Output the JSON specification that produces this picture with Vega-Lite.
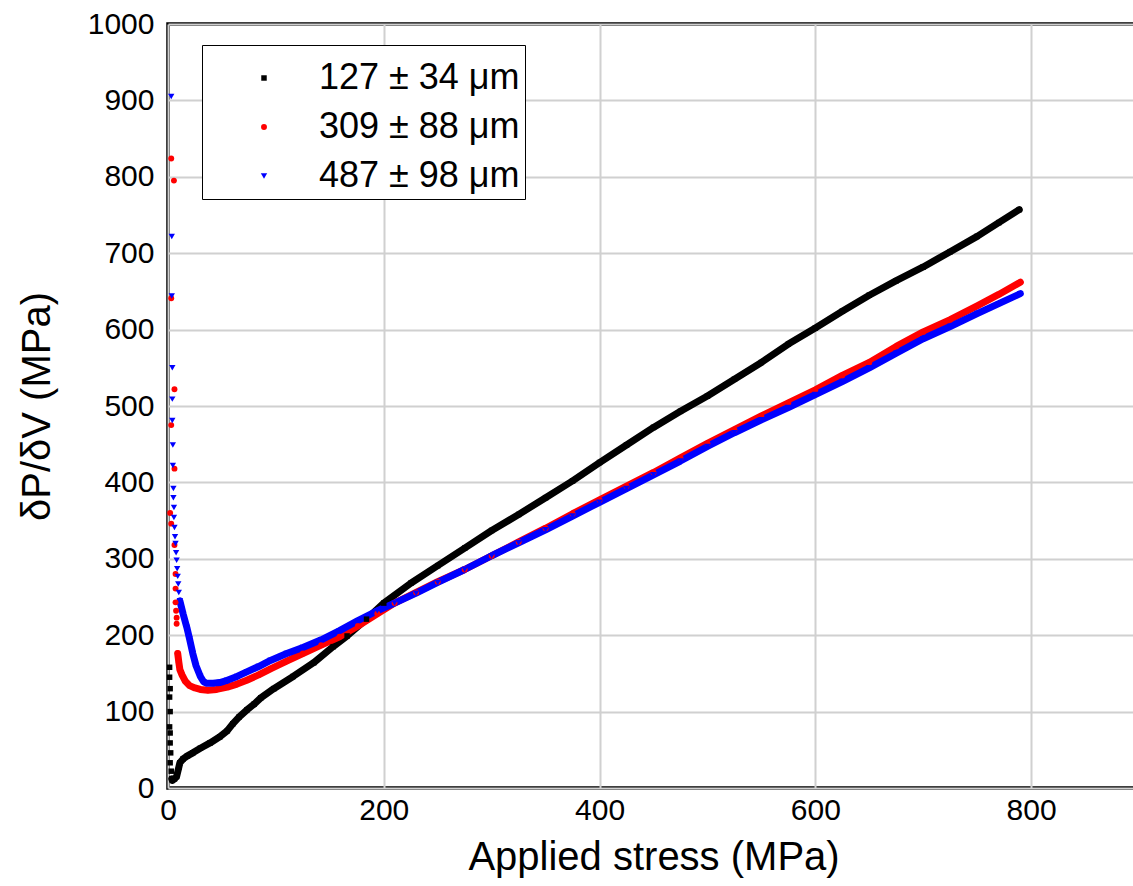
{
  "$schema": "https://vega.github.io/schema/vega-lite/v6.json",
  "autosize": "none",
  "width": 971,
  "height": 764,
  "padding": {"left": 168, "top": 24, "right": 0, "bottom": 98},
  "background": "white",
  "config": {
    "view": {"stroke": "#000000", "strokeWidth": 3.5},
    "font": "Liberation Sans",
    "axis": {
      "labelFont": "Liberation Sans", "labelFontSize": 30, "labelColor": "#000000",
      "titleFont": "Liberation Sans", "titleFontSize": 40, "titleFontWeight": "normal", "titleColor": "#000000",
      "ticks": false, "domain": false, "gridColor": "#d0d0d0", "gridWidth": 2
    },
    "legend": {
      "labelFont": "Liberation Sans", "labelFontSize": 36, "labelColor": "#000000", "labelLimit": 500
    }
  },
  "data": {"values": [
    {"s":"127 ± 34 μm","x":1.5,"y":158},{"s":"127 ± 34 μm","x":1.5,"y":145},{"s":"127 ± 34 μm","x":2,"y":130},{"s":"127 ± 34 μm","x":1.5,"y":119},{"s":"127 ± 34 μm","x":2,"y":100},{"s":"127 ± 34 μm","x":1.5,"y":80},{"s":"127 ± 34 μm","x":2,"y":72},{"s":"127 ± 34 μm","x":2,"y":59},{"s":"127 ± 34 μm","x":2.5,"y":46},{"s":"127 ± 34 μm","x":2,"y":33},
    {"s":"127 ± 34 μm","x":3,"y":22},{"s":"127 ± 34 μm","x":3.5,"y":12},{"s":"127 ± 34 μm","x":4,"y":10},{"s":"127 ± 34 μm","x":6,"y":12},{"s":"127 ± 34 μm","x":8,"y":15},{"s":"127 ± 34 μm","x":10,"y":27},{"s":"127 ± 34 μm","x":11,"y":33},{"s":"127 ± 34 μm","x":14,"y":38},{"s":"127 ± 34 μm","x":18,"y":42},{"s":"127 ± 34 μm","x":23,"y":46},{"s":"127 ± 34 μm","x":30,"y":52},{"s":"127 ± 34 μm","x":39,"y":59},{"s":"127 ± 34 μm","x":48,"y":67},{"s":"127 ± 34 μm","x":55,"y":75},{"s":"127 ± 34 μm","x":60,"y":84},{"s":"127 ± 34 μm","x":66,"y":93},{"s":"127 ± 34 μm","x":73,"y":102},{"s":"127 ± 34 μm","x":80,"y":110},{"s":"127 ± 34 μm","x":86,"y":118},{"s":"127 ± 34 μm","x":98,"y":130},{"s":"127 ± 34 μm","x":116,"y":146},{"s":"127 ± 34 μm","x":135,"y":164},{"s":"127 ± 34 μm","x":153,"y":185},{"s":"127 ± 34 μm","x":166,"y":199},{"s":"127 ± 34 μm","x":184,"y":221},{"s":"127 ± 34 μm","x":200,"y":242},{"s":"127 ± 34 μm","x":225,"y":268},{"s":"127 ± 34 μm","x":250,"y":291},{"s":"127 ± 34 μm","x":275,"y":314},{"s":"127 ± 34 μm","x":300,"y":337},{"s":"127 ± 34 μm","x":325,"y":358},{"s":"127 ± 34 μm","x":350,"y":380},{"s":"127 ± 34 μm","x":375,"y":402},{"s":"127 ± 34 μm","x":400,"y":426},{"s":"127 ± 34 μm","x":425,"y":449},{"s":"127 ± 34 μm","x":450,"y":472},{"s":"127 ± 34 μm","x":475,"y":493},{"s":"127 ± 34 μm","x":500,"y":513},{"s":"127 ± 34 μm","x":525,"y":535},{"s":"127 ± 34 μm","x":550,"y":557},{"s":"127 ± 34 μm","x":575,"y":581},{"s":"127 ± 34 μm","x":600,"y":602},{"s":"127 ± 34 μm","x":625,"y":624},{"s":"127 ± 34 μm","x":650,"y":645},{"s":"127 ± 34 μm","x":675,"y":664},{"s":"127 ± 34 μm","x":700,"y":682},{"s":"127 ± 34 μm","x":725,"y":702},{"s":"127 ± 34 μm","x":750,"y":722},{"s":"127 ± 34 μm","x":770,"y":740},{"s":"127 ± 34 μm","x":789,"y":757},

    {"s":"309 ± 88 μm","x":3,"y":824},{"s":"309 ± 88 μm","x":5.5,"y":795},{"s":"309 ± 88 μm","x":3,"y":641},{"s":"309 ± 88 μm","x":6,"y":522},{"s":"309 ± 88 μm","x":3,"y":475},{"s":"309 ± 88 μm","x":6,"y":418},{"s":"309 ± 88 μm","x":2,"y":360},{"s":"309 ± 88 μm","x":3,"y":346},{"s":"309 ± 88 μm","x":6,"y":318},{"s":"309 ± 88 μm","x":7,"y":280},{"s":"309 ± 88 μm","x":7,"y":261},{"s":"309 ± 88 μm","x":7,"y":243},{"s":"309 ± 88 μm","x":7.5,"y":232},{"s":"309 ± 88 μm","x":8,"y":223},{"s":"309 ± 88 μm","x":8,"y":215},
    {"s":"309 ± 88 μm","x":9,"y":176},{"s":"309 ± 88 μm","x":10,"y":165},{"s":"309 ± 88 μm","x":11,"y":155},{"s":"309 ± 88 μm","x":13,"y":148},{"s":"309 ± 88 μm","x":16,"y":140},{"s":"309 ± 88 μm","x":20,"y":134},{"s":"309 ± 88 μm","x":25,"y":131},{"s":"309 ± 88 μm","x":30,"y":129},{"s":"309 ± 88 μm","x":37,"y":128},{"s":"309 ± 88 μm","x":45,"y":129},{"s":"309 ± 88 μm","x":55,"y":132},{"s":"309 ± 88 μm","x":64,"y":136},{"s":"309 ± 88 μm","x":73,"y":141},{"s":"309 ± 88 μm","x":84,"y":148},{"s":"309 ± 88 μm","x":95,"y":156},{"s":"309 ± 88 μm","x":110,"y":166},{"s":"309 ± 88 μm","x":125,"y":176},{"s":"309 ± 88 μm","x":142,"y":187},{"s":"309 ± 88 μm","x":159,"y":198},{"s":"309 ± 88 μm","x":176,"y":212},{"s":"309 ± 88 μm","x":194,"y":228},{"s":"309 ± 88 μm","x":210,"y":242},{"s":"309 ± 88 μm","x":230,"y":256},{"s":"309 ± 88 μm","x":250,"y":270},{"s":"309 ± 88 μm","x":275,"y":286},{"s":"309 ± 88 μm","x":300,"y":304},{"s":"309 ± 88 μm","x":325,"y":322},{"s":"309 ± 88 μm","x":350,"y":340},{"s":"309 ± 88 μm","x":375,"y":359},{"s":"309 ± 88 μm","x":400,"y":377},{"s":"309 ± 88 μm","x":425,"y":395},{"s":"309 ± 88 μm","x":450,"y":413},{"s":"309 ± 88 μm","x":475,"y":432},{"s":"309 ± 88 μm","x":500,"y":451},{"s":"309 ± 88 μm","x":525,"y":469},{"s":"309 ± 88 μm","x":550,"y":487},{"s":"309 ± 88 μm","x":575,"y":504},{"s":"309 ± 88 μm","x":600,"y":521},{"s":"309 ± 88 μm","x":625,"y":540},{"s":"309 ± 88 μm","x":650,"y":557},{"s":"309 ± 88 μm","x":675,"y":578},{"s":"309 ± 88 μm","x":700,"y":597},{"s":"309 ± 88 μm","x":725,"y":613},{"s":"309 ± 88 μm","x":750,"y":631},{"s":"309 ± 88 μm","x":770,"y":646},{"s":"309 ± 88 μm","x":790,"y":662},

    {"s":"487 ± 98 μm","x":3,"y":905},{"s":"487 ± 98 μm","x":3.5,"y":722},{"s":"487 ± 98 μm","x":3.5,"y":644},{"s":"487 ± 98 μm","x":4,"y":550},{"s":"487 ± 98 μm","x":4,"y":509},{"s":"487 ± 98 μm","x":4,"y":481},{"s":"487 ± 98 μm","x":4.5,"y":449},{"s":"487 ± 98 μm","x":4.5,"y":422},{"s":"487 ± 98 μm","x":5,"y":392},{"s":"487 ± 98 μm","x":5,"y":380},{"s":"487 ± 98 μm","x":5.5,"y":367},{"s":"487 ± 98 μm","x":5.5,"y":354},{"s":"487 ± 98 μm","x":6,"y":341},{"s":"487 ± 98 μm","x":6.5,"y":329},{"s":"487 ± 98 μm","x":7,"y":320},{"s":"487 ± 98 μm","x":7.5,"y":308},{"s":"487 ± 98 μm","x":8,"y":298},{"s":"487 ± 98 μm","x":8.5,"y":287},{"s":"487 ± 98 μm","x":9,"y":277},{"s":"487 ± 98 μm","x":9.5,"y":267},{"s":"487 ± 98 μm","x":10,"y":256},
    {"s":"487 ± 98 μm","x":11,"y":245},{"s":"487 ± 98 μm","x":14,"y":228},{"s":"487 ± 98 μm","x":17.5,"y":210},{"s":"487 ± 98 μm","x":20,"y":195},{"s":"487 ± 98 μm","x":23,"y":176},{"s":"487 ± 98 μm","x":26,"y":160},{"s":"487 ± 98 μm","x":30,"y":146},{"s":"487 ± 98 μm","x":33,"y":139},{"s":"487 ± 98 μm","x":36,"y":137},{"s":"487 ± 98 μm","x":42,"y":137},{"s":"487 ± 98 μm","x":48,"y":138},{"s":"487 ± 98 μm","x":55,"y":141},{"s":"487 ± 98 μm","x":64,"y":146},{"s":"487 ± 98 μm","x":73,"y":152},{"s":"487 ± 98 μm","x":84,"y":159},{"s":"487 ± 98 μm","x":95,"y":167},{"s":"487 ± 98 μm","x":110,"y":176},{"s":"487 ± 98 μm","x":125,"y":184},{"s":"487 ± 98 μm","x":142,"y":194},{"s":"487 ± 98 μm","x":159,"y":206},{"s":"487 ± 98 μm","x":176,"y":219},{"s":"487 ± 98 μm","x":194,"y":232},{"s":"487 ± 98 μm","x":210,"y":242},{"s":"487 ± 98 μm","x":230,"y":255},{"s":"487 ± 98 μm","x":250,"y":269},{"s":"487 ± 98 μm","x":275,"y":286},{"s":"487 ± 98 μm","x":300,"y":304},{"s":"487 ± 98 μm","x":325,"y":321},{"s":"487 ± 98 μm","x":350,"y":338},{"s":"487 ± 98 μm","x":375,"y":356},{"s":"487 ± 98 μm","x":400,"y":374},{"s":"487 ± 98 μm","x":425,"y":392},{"s":"487 ± 98 μm","x":450,"y":410},{"s":"487 ± 98 μm","x":475,"y":428},{"s":"487 ± 98 μm","x":500,"y":447},{"s":"487 ± 98 μm","x":525,"y":465},{"s":"487 ± 98 μm","x":550,"y":482},{"s":"487 ± 98 μm","x":575,"y":498},{"s":"487 ± 98 μm","x":600,"y":515},{"s":"487 ± 98 μm","x":625,"y":532},{"s":"487 ± 98 μm","x":650,"y":550},{"s":"487 ± 98 μm","x":675,"y":569},{"s":"487 ± 98 μm","x":700,"y":588},{"s":"487 ± 98 μm","x":725,"y":604},{"s":"487 ± 98 μm","x":750,"y":621},{"s":"487 ± 98 μm","x":770,"y":634},{"s":"487 ± 98 μm","x":790,"y":647}
  ]},
  "encoding": {
    "x": {"field": "x", "type": "quantitative",
      "scale": {"domain": [0, 900], "nice": false, "zero": false},
      "axis": {"values": [0, 200, 400, 600, 800], "title": "Applied stress (MPa)", "labelPadding": 7, "titlePadding": 12, "labelFlush": false}},
    "y": {"field": "y", "type": "quantitative",
      "scale": {"domain": [0, 1000], "nice": false},
      "axis": {"values": [0,100,200,300,400,500,600,700,800,900,1000], "format": "d", "title": "δP/δV (MPa)", "labelPadding": 14, "titlePadding": 30, "labelFlush": false}}
  },
  "layer": [
    {
      "transform": [{"filter": "datum.s == '127 ± 34 μm' && datum.x >= 3.5"}],
      "mark": {"type": "line", "color": "#000000", "strokeWidth": 7, "strokeCap": "round", "strokeJoin": "round"},
      "encoding": {}
    },
    {
      "transform": [{"filter": "datum.s == '309 ± 88 μm' && datum.x >= 9"}],
      "mark": {"type": "line", "color": "#ff0000", "strokeWidth": 7, "strokeCap": "round", "strokeJoin": "round"},
      "encoding": {}
    },
    {
      "transform": [{"filter": "datum.s == '487 ± 98 μm' && datum.x >= 11"}],
      "mark": {"type": "line", "color": "#0000ff", "strokeWidth": 7, "strokeCap": "round", "strokeJoin": "round"},
      "encoding": {}
    },
    {
      "mark": {"type": "point", "filled": true, "opacity": 1},
      "encoding": {
        "color": {"field": "s", "type": "nominal",
          "scale": {"domain": ["127 ± 34 μm", "309 ± 88 μm", "487 ± 98 μm"], "range": ["#000000", "#ff0000", "#0000ff"]},
          "legend": {"title": " ", "titleFontSize": 10, "titlePadding": 0, "orient": "none", "legendX": 34, "legendY": 21, "strokeColor": "#000000", "fillColor": "#ffffff", "padding": 5, "rowPadding": 13, "symbolOffset": 39, "labelOffset": 37, "symbolSize": 30, "symbolStrokeWidth": 0}},
        "shape": {"field": "s", "type": "nominal",
          "scale": {"domain": ["127 ± 34 μm", "309 ± 88 μm", "487 ± 98 μm"], "range": ["square", "circle", "triangle-down"]}},
        "size": {"field": "s", "type": "nominal",
          "scale": {"domain": ["127 ± 34 μm", "309 ± 88 μm", "487 ± 98 μm"], "range": [30, 40, 60]}, "legend": null}
      }
    }
  ]
}
